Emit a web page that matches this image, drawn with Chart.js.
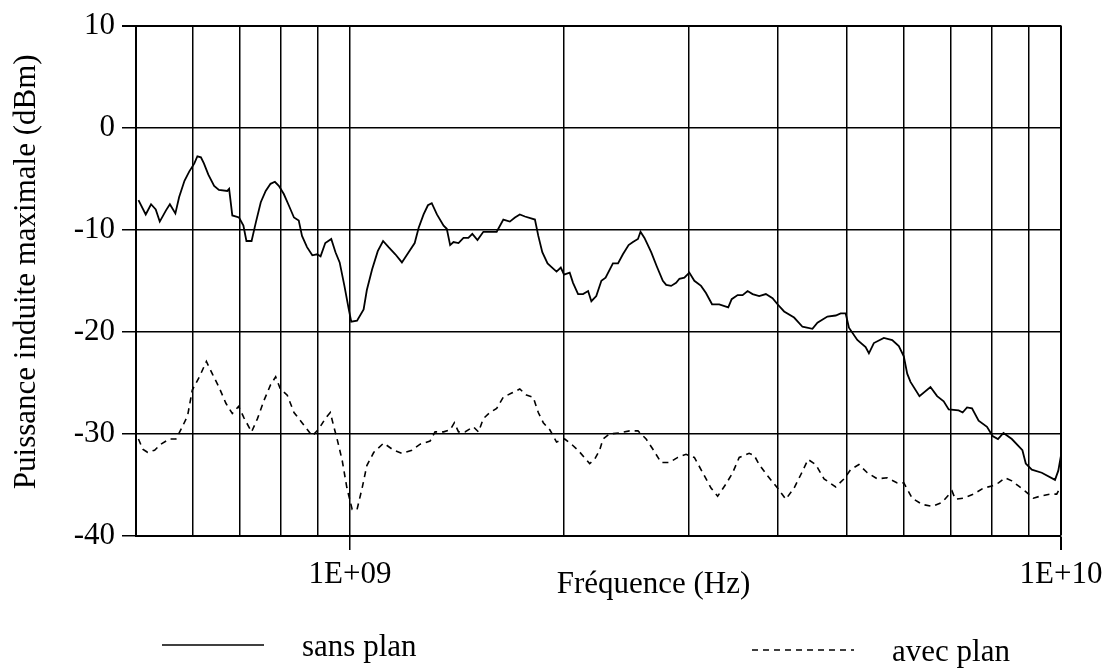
<!DOCTYPE html>
<html lang="fr">
<head>
<meta charset="utf-8">
<title>Puissance induite maximale</title>
<script src="https://cdn.jsdelivr.net/npm/chart.js@4.4.1/dist/chart.umd.min.js"></script>
<style>
    html, body { margin: 0; padding: 0; background: #fff; }
    #chart { display: block; }
</style>
</head>
<body>
<canvas id="chart" width="1111" height="669"></canvas>
<script>
// Fréquences en GHz, niveaux en dBm
const freqSans = [
    0.504, 0.516, 0.525, 0.533, 0.540, 0.551, 0.558, 0.568, 0.575, 0.585,
    0.594, 0.604, 0.610, 0.617, 0.623, 0.632, 0.644, 0.654, 0.672, 0.676,
    0.683, 0.698, 0.708, 0.715, 0.727, 0.737, 0.749, 0.761, 0.773, 0.784,
    0.794, 0.807, 0.820, 0.834, 0.847, 0.856, 0.870, 0.885, 0.899, 0.909,
    0.923, 0.941, 0.954, 0.967, 0.982, 0.996, 1.004, 1.023, 1.045, 1.056,
    1.074, 1.094, 1.113, 1.133, 1.158, 1.183, 1.209, 1.233, 1.249, 1.269,
    1.287, 1.303, 1.325, 1.354, 1.368, 1.383, 1.398, 1.421, 1.444, 1.467,
    1.486, 1.511, 1.540, 1.608, 1.643, 1.678, 1.706, 1.733, 1.762, 1.820,
    1.840, 1.864, 1.896, 1.931, 1.952, 1.979, 2.000, 2.037, 2.059, 2.093,
    2.127, 2.162, 2.185, 2.220, 2.257, 2.288, 2.343, 2.382, 2.420, 2.465,
    2.500, 2.541, 2.562, 2.595, 2.652, 2.701, 2.754, 2.784, 2.829, 2.875,
    2.906, 2.953, 3.001, 3.050, 3.117, 3.167, 3.230, 3.306, 3.404, 3.442,
    3.509, 3.566, 3.624, 3.683, 3.763, 3.845, 3.929, 3.993, 4.079, 4.213,
    4.329, 4.471, 4.544, 4.693, 4.821, 4.899, 4.979, 5.032, 5.170, 5.311,
    5.368, 5.455, 5.634, 5.789, 5.914, 6.010, 6.077, 6.142, 6.323, 6.552,
    6.695, 6.839, 6.951, 7.179, 7.272, 7.376, 7.496, 7.658, 7.869, 8.012,
    8.153, 8.300, 8.528, 8.825, 8.922, 9.098, 9.396, 9.808, 9.913, 10.0
];
const dbmSans = [
    -7.1, -8.5, -7.5, -8.0, -9.2, -8.1, -7.5, -8.4, -6.8, -5.2,
    -4.3, -3.5, -2.8, -2.9, -3.5, -4.6, -5.7, -6.1, -6.2, -6.0,
    -8.6, -8.8, -9.6, -11.1, -11.1, -9.3, -7.3, -6.2, -5.5, -5.3,
    -5.7, -6.5, -7.6, -8.8, -9.1, -10.6, -11.7, -12.5, -12.4, -12.6,
    -11.3, -10.9, -12.2, -13.2, -15.5, -17.8, -19.0, -18.9, -17.8, -15.9,
    -13.9, -12.1, -11.1, -11.7, -12.4, -13.2, -12.2, -11.3, -9.8, -8.5,
    -7.6, -7.4, -8.5, -9.6, -9.9, -11.5, -11.2, -11.3, -10.8, -10.8,
    -10.4, -11.0, -10.2, -10.2, -9.0, -9.2, -8.8, -8.5, -8.7, -9.0,
    -10.6, -12.2, -13.3, -13.8, -14.1, -13.7, -14.4, -14.2, -15.2, -16.3,
    -16.3, -16.0, -17.0, -16.5, -15.0, -14.7, -13.3, -13.3, -12.4, -11.5,
    -11.2, -10.9, -10.2, -10.8, -12.2, -13.6, -15.0, -15.4, -15.5, -15.2,
    -14.8, -14.7, -14.2, -15.0, -15.5, -16.2, -17.3, -17.3, -17.6, -16.8,
    -16.4, -16.4, -16.0, -16.3, -16.5, -16.3, -16.7, -17.3, -18.0, -18.6,
    -19.5, -19.7, -19.1, -18.5, -18.4, -18.2, -18.2, -19.6, -20.8, -21.5,
    -22.1, -21.1, -20.6, -20.8, -21.4, -22.4, -24.1, -24.9, -26.3, -25.4,
    -26.3, -26.8, -27.6, -27.7, -27.9, -27.4, -27.5, -28.7, -29.3, -30.2,
    -30.5, -29.9, -30.5, -31.6, -32.9, -33.5, -33.8, -34.5, -33.6, -32.1
];

const freqAvec = [
    0.504, 0.511, 0.519, 0.531, 0.542, 0.557, 0.569, 0.581, 0.591, 0.600,
    0.614, 0.628, 0.640, 0.654, 0.669, 0.683, 0.697, 0.709, 0.727, 0.741,
    0.757, 0.773, 0.786, 0.798, 0.816, 0.834, 0.856, 0.885, 0.904, 0.923,
    0.938, 0.949, 0.959, 0.975, 0.990, 1.007, 1.023, 1.040, 1.056, 1.080,
    1.115, 1.152, 1.183, 1.222, 1.255, 1.296, 1.317, 1.354, 1.383, 1.402,
    1.421, 1.451, 1.491, 1.516, 1.540, 1.573, 1.608, 1.643, 1.688, 1.733,
    1.771, 1.810, 1.840, 1.870, 1.910, 1.952, 2.004, 2.048, 2.093, 2.173,
    2.208, 2.244, 2.269, 2.318, 2.394, 2.473, 2.541, 2.609, 2.667, 2.739,
    2.813, 2.891, 2.969, 3.050, 3.134, 3.219, 3.289, 3.379, 3.453, 3.527,
    3.643, 3.702, 3.763, 3.866, 3.993, 4.101, 4.213, 4.305, 4.408, 4.519,
    4.642, 4.821, 4.952, 5.060, 5.197, 5.340, 5.515, 5.696, 5.884, 6.010,
    6.176, 6.377, 6.588, 6.804, 7.027, 7.102, 7.296, 7.535, 7.783, 7.995,
    8.169, 8.346, 8.528, 8.712, 8.902, 9.145, 9.345, 9.651, 9.862, 10.0
];
const dbmAvec = [
    -30.5, -31.5, -31.8, -31.6, -31.0, -30.5, -30.5, -29.3, -28.2, -25.7,
    -24.4, -22.9, -24.1, -25.4, -27.0, -28.0, -27.3, -28.4, -29.8, -28.5,
    -26.7, -25.2, -24.4, -25.6, -26.2, -27.9, -28.9, -30.2, -29.5, -28.5,
    -27.9, -29.3, -30.5, -32.6, -35.3, -37.4, -37.4, -35.3, -33.1, -31.8,
    -30.9, -31.6, -31.9, -31.6, -31.0, -30.7, -29.8, -29.8, -29.6, -28.9,
    -29.8, -29.8, -29.3, -29.8, -28.5, -27.9, -27.5, -26.4, -26.0, -25.6,
    -26.2, -26.4, -27.9, -28.9, -29.6, -30.8, -30.5, -31.0, -31.6, -32.9,
    -32.5, -31.6, -30.5, -30.0, -29.9, -29.7, -29.7, -30.5, -31.5, -32.8,
    -32.8, -32.3, -32.0, -32.3, -33.8, -35.3, -36.1, -34.9, -33.8, -32.3,
    -31.9, -32.1, -33.0, -34.1, -35.3, -36.4, -35.3, -34.0, -32.5, -33.0,
    -34.4, -35.2, -34.4, -33.5, -33.0, -33.8, -34.4, -34.3, -34.8, -34.8,
    -36.3, -36.9, -37.1, -36.7, -35.6, -36.4, -36.3, -35.9, -35.3, -35.1,
    -34.8, -34.3, -34.6, -35.1, -35.6, -36.3, -36.1, -35.9, -35.9, -35.1
];

// grille verticale (Hz) et graduations étiquetées
const gridFreqs = [5e8, 6e8, 7e8, 8e8, 9e8, 1e9, 2e9, 3e9, 4e9, 5e9, 6e9, 7e9, 8e9, 9e9, 1e10];
const labelFreqs = [1e9, 1e10];
const labelTexts = ['1E+09', '1E+10'];
const yTicks = [-40, -30, -20, -10, 0, 10];

const SERIF = '"Liberation Serif", "Times New Roman", serif';
const FONT_SIZE = 31;

function toPoints(freqs, levels) {
    return freqs.map((f, i) => ({ x: f * 1e9, y: levels[i] }));
}

function isLabelled(v) {
    return labelFreqs.some(f => Math.abs(v - f) / f < 1e-6);
}

// titres d'axes et légende façon tableur
const paperText = {
    id: 'paperText',
    afterDraw(chart) {
        const { ctx, chartArea } = chart;
        ctx.save();
        ctx.fillStyle = '#000';
        ctx.strokeStyle = '#000';
        ctx.font = `${FONT_SIZE}px ${SERIF}`;
        ctx.textBaseline = 'middle';

        ctx.textAlign = 'center';
        ctx.fillText('Fréquence (Hz)', (chartArea.left + chartArea.right) / 2 + 55, chartArea.bottom + 49);

        ctx.save();
        ctx.translate(27, (chartArea.top + chartArea.bottom) / 2 - 9);
        ctx.rotate(-Math.PI / 2);
        ctx.fillText('Puissance induite maximale (dBm)', 0, 0);
        ctx.restore();

        const slots = [{ x: 162, y: 645 }, { x: 752, y: 650 }];
        ctx.textAlign = 'left';
        chart.data.datasets.forEach((ds, i) => {
            const s = slots[i];
            ctx.lineWidth = 1.6;
            ctx.setLineDash(ds.borderDash || []);
            ctx.beginPath();
            ctx.moveTo(s.x, s.y);
            ctx.lineTo(s.x + 102, s.y);
            ctx.stroke();
            ctx.setLineDash([]);
            ctx.fillText(ds.label, s.x + 140, s.y + 3);
        });
        ctx.restore();
    }
};

const ctx = document.getElementById('chart').getContext('2d');

new Chart(ctx, {
    type: 'line',
    data: {
        datasets: [
            {
                label: 'sans plan',
                data: toPoints(freqSans, dbmSans),
                borderColor: '#000',
                borderWidth: 1.8,
                borderDash: [],
                pointRadius: 0,
                tension: 0
            },
            {
                label: 'avec plan',
                data: toPoints(freqAvec, dbmAvec),
                borderColor: '#000',
                borderWidth: 1.6,
                borderDash: [6, 5],
                pointRadius: 0,
                tension: 0
            }
        ]
    },
    options: {
        responsive: false,
        animation: false,
        events: [],
        layout: { padding: { top: 24, right: 50, left: 0, bottom: 0 } },
        plugins: {
            legend: { display: false },
            tooltip: { enabled: false }
        },
        scales: {
            x: {
                type: 'logarithmic',
                min: 5e8,
                max: 1e10,
                afterBuildTicks: (s) => { s.ticks = gridFreqs.map(v => ({ value: v })); },
                afterFit: (s) => { s.height = 133; },
                ticks: {
                    autoSkip: false,
                    maxRotation: 0,
                    padding: 6,
                    color: '#000',
                    font: { family: SERIF, size: FONT_SIZE },
                    callback: (v) => {
                        const k = labelFreqs.findIndex(f => Math.abs(v - f) / f < 1e-6);
                        return k >= 0 ? labelTexts[k] : '';
                    }
                },
                grid: {
                    color: '#000',
                    lineWidth: (c) => (c.tick && (c.tick.value === 1e10) ? 2 : 1.5),
                    tickLength: 14,
                    tickColor: (c) => (c.tick && isLabelled(c.tick.value) ? '#000' : 'rgba(0,0,0,0)')
                },
                border: { color: '#000', width: 2 }
            },
            y: {
                min: -40,
                max: 10,
                afterBuildTicks: (s) => { s.ticks = yTicks.map(v => ({ value: v })); },
                afterFit: (s) => { s.width = 136; },
                ticks: {
                    padding: 7,
                    color: '#000',
                    font: { family: SERIF, size: FONT_SIZE },
                    callback: (v) => String(v)
                },
                grid: {
                    color: '#000',
                    lineWidth: (c) => (c.tick && c.tick.value === 10 ? 2 : 1.5),
                    tickLength: 14,
                    tickColor: '#000'
                },
                border: { color: '#000', width: 2 }
            }
        }
    },
    plugins: [paperText]
});
</script>
</body>
</html>
